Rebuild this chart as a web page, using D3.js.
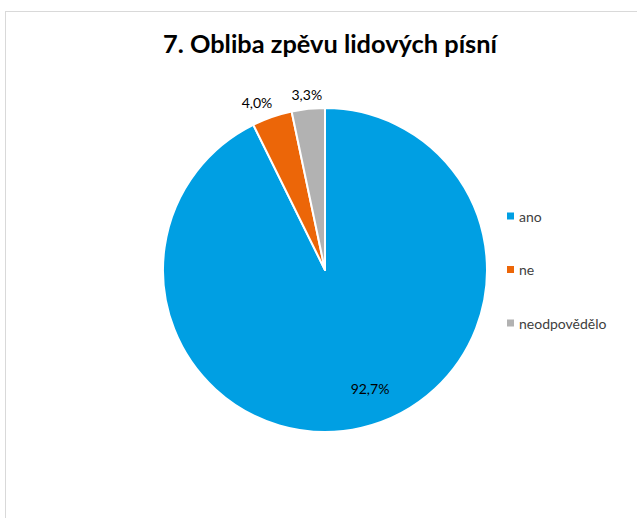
<!DOCTYPE html>
<html><head><meta charset="utf-8">
<script src="https://cdn.jsdelivr.net/npm/d3@7"></script>
<style>html,body{margin:0;padding:0;background:#fff;}</style>
</head><body>
<script>
const title = "7. Obliba zpěvu lidových písní";
const categories = ["ano", "ne", "neodpovědělo"];
const values = [92.7, 4.0, 3.3];
const valueLabels = ["92,7%", "4,0%", "3,3%"];
const colors = ["#009FE3", "#EC6608", "#B2B2B2"];

const W = 637, H = 518;
const svg = d3.select("body").append("svg").attr("width", W).attr("height", H)
  .style("font-family", "Lato, 'Open Sans', sans-serif");

// chart frame
svg.append("rect").attr("x", 5.5).attr("y", 11.5).attr("width", 640).attr("height", 520)
  .attr("fill", "#fff").attr("stroke", "#D9D9D9").attr("stroke-width", 1);

const t = svg.append("text").attr("x", 330).attr("y", 53).attr("text-anchor", "middle")
  .attr("font-weight", "bold").attr("font-size", 24).attr("fill", "#000").text(title);
// fit to target width
const tw = t.node().getComputedTextLength();
t.attr("font-size", 24 * 334 / tw);

const cx = 325, cy = 270, R = 162;
const pie = d3.pie().sort(null).value(d => d)(values);
const arc = d3.arc().innerRadius(0).outerRadius(R);
const g = svg.append("g").attr("transform", `translate(${cx},${cy})`);
g.selectAll("path").data(pie).join("path")
  .attr("d", arc)
  .attr("fill", (d, i) => colors[i])
  .attr("stroke", "#fff").attr("stroke-width", 2).attr("stroke-linejoin", "round");

// labels
const labR = [127, 181, 176];
const labOff = [-0.133, -0.052, 0];
const labAngle = (d, i) => (d.startAngle + d.endAngle) / 2 + labOff[i];
g.selectAll("text.lab").data(pie).join("text").attr("class", "lab")
  .attr("x", (d, i) => Math.sin(labAngle(d, i)) * labR[i])
  .attr("y", (d, i) => -Math.cos(labAngle(d, i)) * labR[i])
  .attr("text-anchor", "middle").attr("dominant-baseline", "central")
  .attr("font-size", 14).attr("fill", "#000")
  .text((d, i) => valueLabels[i]);

// legend
const ly = d3.scalePoint().domain(categories).range([216, 323]);
const lg = svg.append("g");
categories.forEach((c, i) => {
  lg.append("rect").attr("x", 507).attr("y", ly(c) - 3.5).attr("width", 7).attr("height", 7).attr("fill", colors[i]);
  lg.append("text").attr("x", 519).attr("y", ly(c)).attr("dominant-baseline", "central")
    .attr("font-size", 14).attr("fill", "#404040").text(c);
});
</script>
</body></html>
